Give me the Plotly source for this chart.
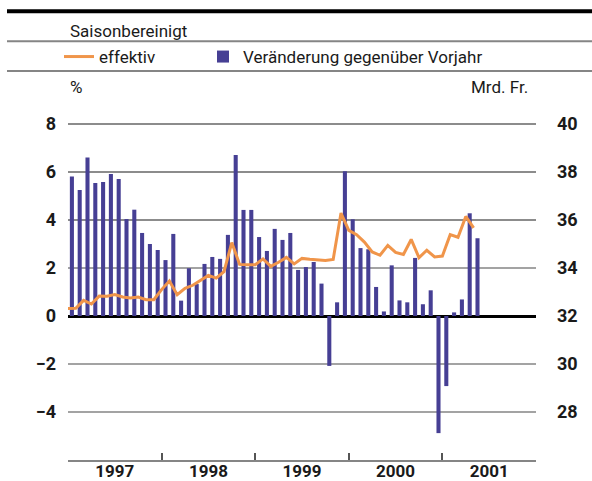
import plotly.graph_objects as go

years = ["1997", "1998", "1999", "2000", "2001"]

# Veränderung gegenüber Vorjahr in %, monatlich ab Januar 1997
veraenderung = [5.81, 5.25, 6.60, 5.54, 5.58, 5.92, 5.71, 4.04, 4.43, 3.46, 3.00, 2.75,
                2.33, 3.42, 0.64, 1.99, 1.33, 2.17, 2.46, 2.38, 3.38, 6.71, 4.42, 4.42,
                3.29, 2.71, 3.63, 3.17, 3.46, 1.92, 2.04, 2.25, 1.35, -2.08, 0.57, 6.03,
                4.03, 2.83, 2.78, 1.21, 0.19, 2.11, 0.65, 0.57, 2.42, 0.49, 1.07, -4.88,
                -2.92, 0.15, 0.69, 4.28, 3.24]

# effektiv in Mrd. Fr.
effektiv = [32.31, 32.32, 32.65, 32.50, 32.83, 32.82, 32.89, 32.79, 32.75, 32.79, 32.68, 32.68,
            33.10, 33.46, 32.89, 33.15, 33.28, 33.47, 33.69, 33.58, 33.85, 35.06, 34.15, 34.14,
            34.14, 34.38, 34.07, 34.24, 34.44, 34.17, 34.40, 34.36, 34.35, 34.31, 34.36, 36.29,
            35.57, 35.39, 35.08, 34.67, 34.53, 34.94, 34.65, 34.56, 35.19, 34.43, 34.74, 34.46,
            34.50, 35.39, 35.28, 36.15, 35.67]

left_ticks = [-4, -2, 0, 2, 4, 6, 8]
right_ticks = [28, 30, 32, 34, 36, 38, 40]

BAR = "#463f94"
LINE = "#f0954a"
GRAY = "#858585"
TEXT = "#1a1a1a"
FONT = "Roboto"

W, H = 592, 481
L, R, T, B = 68, 56, 100, 21


def px(x):
    return (x - L) / (W - L - R)


def py(y):
    return (H - B - y) / (H - T - B)


months = list(range(len(veraenderung)))
bar_x = [m + 0.5 for m in months]

fig = go.Figure()

fig.add_trace(go.Scatter(
    x=months, y=effektiv, name="effektiv", yaxis="y2", legend="legend", showlegend=True,
    mode="lines", line=dict(color=LINE, width=3),
))
fig.add_trace(go.Bar(
    x=bar_x, y=veraenderung, name="Veränderung gegenüber Vorjahr", legend="legend2", showlegend=True,
    width=0.52, marker=dict(color=BAR, line=dict(width=0)),
))

# Gitterlinien: im positiven Bereich dunkel, sonst grau
for v in left_ticks:
    if v != 0:
        fig.add_hline(y=v, layer="below",
                      line=dict(color=TEXT if v > 2 else GRAY, width=1.2 if v > 2 else 1.6))

# Kopfzeilen
fig.add_shape(type="line", xref="paper", yref="paper", x0=px(7), x1=px(W), y0=py(11.3), y1=py(11.3),
              line=dict(color="black", width=4))
for yy in (41.3, 71):
    fig.add_shape(type="line", xref="paper", yref="paper", x0=px(7), x1=px(W), y0=py(yy), y1=py(yy),
                  line=dict(color=GRAY, width=2))

head_font = dict(size=17, color=TEXT)
fig.add_annotation(text="Saisonbereinigt", xref="paper", yref="paper", x=px(68), y=py(31),
                   xanchor="left", yanchor="middle", showarrow=False, font=head_font)
fig.add_annotation(text="%", xref="paper", yref="paper", x=px(68), y=py(87),
                   xanchor="left", yanchor="middle", showarrow=False, font=head_font)
fig.add_annotation(text="Mrd. Fr.", xref="paper", yref="paper", x=px(530), y=py(87),
                   xanchor="right", yanchor="middle", showarrow=False, font=head_font)

legend_style = dict(orientation="h", yanchor="middle", xanchor="left", y=py(57),
                    font=head_font, bgcolor="rgba(0,0,0,0)")

tick_font = dict(size=18, family=FONT, weight="bold", color=TEXT)

fig.update_layout(
    width=W, height=H,
    showlegend=True,
    margin=dict(l=L, r=R, t=T, b=B, pad=0, autoexpand=False),
    paper_bgcolor="white", plot_bgcolor="white",
    font=dict(family=FONT, size=17, color=TEXT),
    legend=dict(x=px(59), **legend_style),
    legend2=dict(x=px(203), **legend_style),
    xaxis=dict(
        range=[0, 12 * len(years)],
        tickvals=[12 * i + 6 for i in range(len(years))], ticktext=years,
        ticks="", showgrid=False, zeroline=False,
        showline=True, linecolor=GRAY, linewidth=2,
        tickfont=dict(tick_font, size=17), ticklabelstandoff=-5,
        minor=dict(tickvals=[12 * i for i in range(1, len(years))],
                   ticks="inside", ticklen=7, tickcolor="#555555", tickwidth=1.5, showgrid=False),
    ),
    yaxis=dict(
        range=[-6, 9], tickvals=left_ticks,
        ticktext=[str(v).replace("-", "\u2212") for v in left_ticks],
        showgrid=False,
        zeroline=True, zerolinecolor="black", zerolinewidth=3,
        ticks="", ticklabelstandoff=11, tickfont=tick_font,
    ),
    yaxis2=dict(
        range=[26, 41], tickvals=right_ticks, overlaying="y", side="right",
        showgrid=False, zeroline=False, ticks="", ticklabelstandoff=20, tickfont=tick_font,
    ),
)

# Seitenrand des Browsers entfernen, damit die Grafik bei (0, 0) beginnt
fig.write_html("out.html", config={"displayModeBar": False},
               post_script="document.body.style.margin = '0';")
